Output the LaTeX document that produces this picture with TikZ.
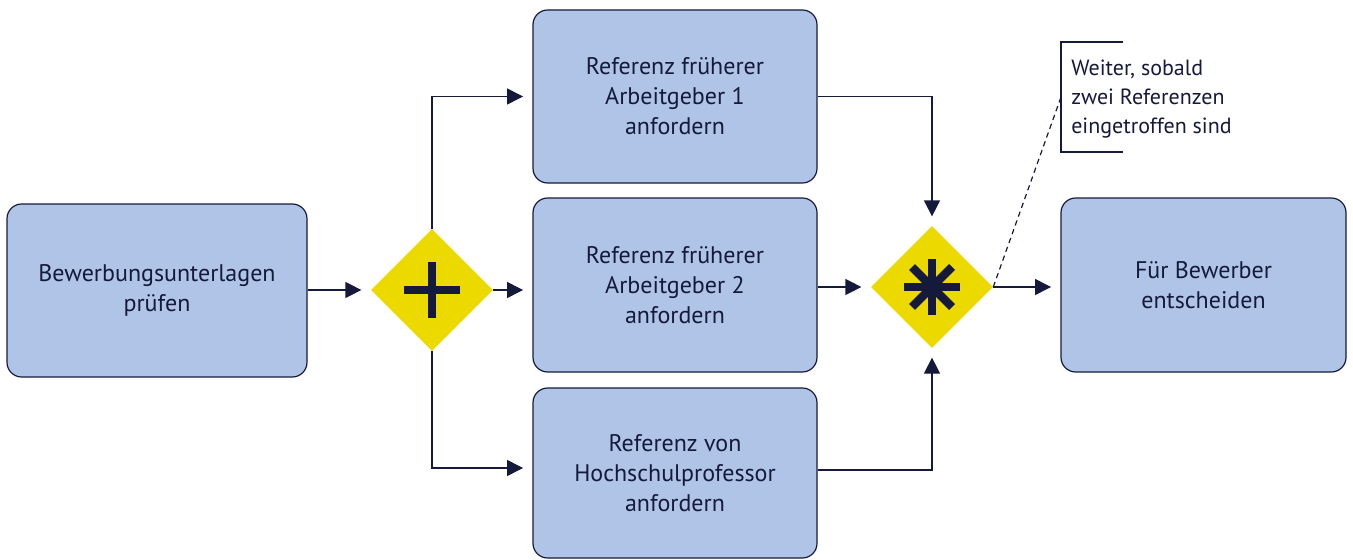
\documentclass[tikz,border=0pt]{standalone}
\usepackage{fontspec}
\setmainfont{PT Sans}
\usetikzlibrary{shapes.geometric,arrows.meta,calc}
\definecolor{boxfill}{HTML}{AFC4E6}
\definecolor{navy}{HTML}{151A3C}
\definecolor{gold}{HTML}{EBD900}
\begin{document}
\begin{tikzpicture}[x=0.75pt,y=-0.75pt,
  task/.style={draw=navy,line width=0.9pt,fill=boxfill,rounded corners=11pt,
    align=center,text=navy,font=\fontsize{18}{22.5}\selectfont,inner sep=0pt},
  gate/.style={diamond,fill=gold,draw=none,minimum width=91.5pt,minimum height=91.5pt,inner sep=0pt},
  flow/.style={draw=navy,line width=0.9pt,-{Triangle[length=12pt,width=12pt]},shorten >=7pt},
  sym/.style={draw=navy,line width=6.2pt}]
\useasboundingbox (0,0) rectangle (1353,560);
\node[task,minimum width=225pt,minimum height=129.75pt] (A) at (157,290.5) {Bewerbungsunterlagen\\prüfen};
\node[task,minimum width=213pt,minimum height=129.75pt] (B1) at (675,96.5) {Referenz früherer\\Arbeitgeber 1\\anfordern};
\node[task,minimum width=213pt,minimum height=130.5pt] (B2) at (675,285) {Referenz früherer\\Arbeitgeber 2\\anfordern};
\node[task,minimum width=213pt,minimum height=127.5pt] (B3) at (675,473) {Referenz von\\Hochschulprofessor\\anfordern};
\node[task,minimum width=213.75pt,minimum height=130.5pt] (C) at (1203.5,285) {Für Bewerber\\entscheiden};
\node[gate] (G1) at (432,290) {};
\node[gate] (G2) at (932,287) {};
% plus
\draw[sym] ($(G1)+(-28,0)$) -- ($(G1)+(28,0)$);
\draw[sym] ($(G1)+(0,-28)$) -- ($(G1)+(0,28)$);
% asterisk
\draw[sym,line width=6.3pt] ($(G2)+(-28,0)$) -- ($(G2)+(28,0)$);
\draw[sym,line width=6.3pt] ($(G2)+(0,-28)$) -- ($(G2)+(0,28)$);
\draw[sym,line width=6.3pt] ($(G2)+(-20,-20)$) -- ($(G2)+(20,20)$);
\draw[sym,line width=6.3pt] ($(G2)+(20,-20)$) -- ($(G2)+(-20,20)$);
% flows
\draw[flow] (A.east |- G1) -- (G1.west);
\draw[flow] (G1.north) |- (B1.west);
\draw[flow] (G1.east) -- (B2.west |- G1);
\draw[flow] (G1.south) |- (B3.west |- 0,468);
\draw[flow] (B1.east) -| (G2.north);
\draw[flow] (B2.east |- G2) -- (G2.west);
\draw[flow] (B3.east |- 0,470) -| (G2.south);
\draw[flow] (G2.east) -- (C.west |- G2);
% annotation
\coordinate (nt) at (1123,42);
\coordinate (nb) at (1123,152);
\coordinate (nm) at (1061,97);
\draw[navy,line width=0.9pt] (nt) -- (1061,42) -- (1061,152) -- (nb);
\node[anchor=north west,align=left,text=navy,font=\fontsize{16.5}{21.5}\selectfont,inner sep=0pt] (note) at (1071,60) {Weiter, sobald\\zwei Referenzen\\eingetroffen sind};
\draw[navy,line width=0.9pt,dash pattern=on 4pt off 3pt] (G2.east) -- (nm);
\end{tikzpicture}
\end{document}
